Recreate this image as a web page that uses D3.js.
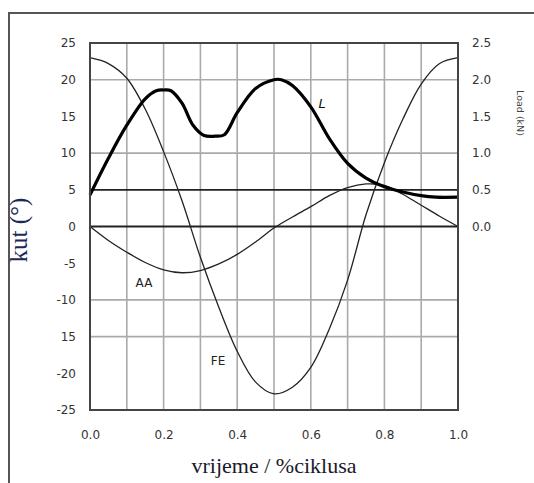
<!DOCTYPE html>
<html><head><meta charset="utf-8">
<script src="https://cdn.jsdelivr.net/npm/d3@7"></script>
<style>body{margin:0;background:#fff}svg{display:block}</style>
</head><body>
<svg id="c" width="534" height="483"></svg>
<script>
// Data
const xTicks = [0, 0.2, 0.4, 0.6, 0.8, 1.0];
const leftTicks = [25, 20, 15, 10, 5, 0, -5, -10, -15, -20, -25];
const leftTickLabels = ["25","20","15","10","5","0","-5","-10","15","-20","-25"];
const rightTicks = [2.5, 2.0, 1.5, 1.0, 0.5, 0.0];
const gridY = [20, 10, -10, -15];
const refY = [5, 0];
const gridX = [0.1,0.2,0.3,0.4,0.5,0.6,0.7,0.8,0.9];

const feX = [0,0.05,0.1,0.15,0.2,0.25,0.3,0.35,0.4,0.45,0.5,0.55,0.6,0.65,0.7,0.75,0.8,0.85,0.9,0.95,1.0];
const feY = [23,22.2,20.2,16,10.2,3.5,-4.2,-11,-17,-21.2,-22.8,-21.9,-19.2,-14,-7.3,1.6,8.7,14.6,19.4,22.2,23];

const aaX = [0,0.05,0.1,0.15,0.2,0.25,0.3,0.35,0.4,0.45,0.5,0.55,0.6,0.65,0.7,0.75,0.8,0.85,0.9,0.95,1.0];
const aaY = [0,-1.9,-3.5,-4.9,-5.9,-6.3,-6.0,-5.1,-3.8,-2.1,-0.2,1.3,2.7,4.2,5.3,5.8,5.6,4.4,2.9,1.4,0];

const lX = [0,0.05,0.1,0.15,0.18,0.2,0.22,0.25,0.28,0.31,0.34,0.365,0.4,0.45,0.5,0.52,0.55,0.6,0.65,0.7,0.75,0.8,0.85,0.9,0.94,1.0];
const lY = [0.43,0.93,1.38,1.74,1.85,1.86,1.85,1.68,1.38,1.24,1.23,1.25,1.55,1.88,2.0,2.0,1.92,1.63,1.2,0.86,0.66,0.54,0.47,0.42,0.40,0.40];

const svg = d3.select("#c");
const L = 90, R = 458, T = 43, B = 410;
const x = d3.scaleLinear().domain([0,1]).range([L,R]);
const y = d3.scaleLinear().domain([-25,25]).range([B,T]);
const y2 = d3.scaleLinear().domain([-2.5,2.5]).range([B,T]);

// outer frame
svg.append("path").attr("d","M9,483 L9,13 L534,13").attr("fill","none").attr("stroke","#555").attr("stroke-width",2);

// grid
svg.selectAll(".gx").data(gridX).enter().append("line")
  .attr("x1",d=>x(d)).attr("x2",d=>x(d)).attr("y1",T).attr("y2",B)
  .attr("stroke","#aaa").attr("stroke-width",1.6);
svg.selectAll(".gy").data(gridY).enter().append("line")
  .attr("x1",L).attr("x2",R).attr("y1",d=>y(d)).attr("y2",d=>y(d))
  .attr("stroke","#aaa").attr("stroke-width",1.6);
svg.selectAll(".ry").data(refY).enter().append("line")
  .attr("x1",L).attr("x2",R).attr("y1",d=>y(d)).attr("y2",d=>y(d))
  .attr("stroke","#222").attr("stroke-width",1.8);

// curves
const line = (xs, ys, sc) => d3.line().x((d,i)=>x(xs[i])).y(d=>sc(d)).curve(d3.curveCatmullRom.alpha(0.5))(ys);
svg.append("path").attr("d",line(feX,feY,y)).attr("fill","none").attr("stroke","#222").attr("stroke-width",1.3);
svg.append("path").attr("d",line(aaX,aaY,y)).attr("fill","none").attr("stroke","#222").attr("stroke-width",1.3);
svg.append("path").attr("d",line(lX,lY,y2)).attr("fill","none").attr("stroke","#000").attr("stroke-width",3.2).attr("stroke-linejoin","round");

// plot border
svg.append("rect").attr("x",L).attr("y",T).attr("width",R-L).attr("height",B-T)
  .attr("fill","none").attr("stroke","#444").attr("stroke-width",2);

// axes via d3 axis, styled
const fontS = "'DejaVu Sans', Arial, sans-serif";
const ax = svg.append("g").attr("transform",`translate(0,${B})`)
  .call(d3.axisBottom(x).tickValues(xTicks).tickFormat(d3.format(".1f")).tickSize(0).tickPadding(20));
const ayl = svg.append("g").attr("transform",`translate(${L},0)`)
  .call(d3.axisLeft(y).tickValues(leftTicks).tickFormat((d,i)=>leftTickLabels[i]).tickSize(0).tickPadding(14));
const ayr = svg.append("g").attr("transform",`translate(${R},0)`)
  .call(d3.axisRight(y2).tickValues(rightTicks).tickFormat(d3.format(".1f")).tickSize(0).tickPadding(14));
[ax,ayl,ayr].forEach(g=>{
  g.select(".domain").remove();
  g.selectAll("text").attr("font-family",fontS).attr("font-size",12).attr("fill","#333");
});

// labels
svg.append("text").attr("x",144).attr("y",287).attr("text-anchor","middle")
  .attr("font-family",fontS).attr("font-size",12).attr("fill","#222").text("AA");
svg.append("text").attr("x",218).attr("y",365).attr("text-anchor","middle")
  .attr("font-family",fontS).attr("font-size",12).attr("fill","#222").text("FE");
svg.append("text").attr("x",322).attr("y",108).attr("text-anchor","middle")
  .attr("font-family",fontS).attr("font-size",13).attr("font-style","italic").attr("fill","#111").text("L");

svg.append("text").attr("transform","translate(27,230) rotate(-90)").attr("text-anchor","middle")
  .attr("font-family","'Liberation Serif','Times New Roman',serif").attr("font-size",25).attr("fill","#1c2a5a").text("kut (°)");
svg.append("text").attr("transform","translate(517,113) rotate(90)").attr("text-anchor","middle")
  .attr("font-family",fontS).attr("font-size",9.5).attr("fill","#444").text("Load (kN)");
svg.append("text").attr("x",274).attr("y",473).attr("text-anchor","middle")
  .attr("font-family","'Liberation Serif','Times New Roman',serif").attr("font-size",22).attr("fill","#1a1a2a").text("vrijeme / %ciklusa");
</script>
</body></html>
